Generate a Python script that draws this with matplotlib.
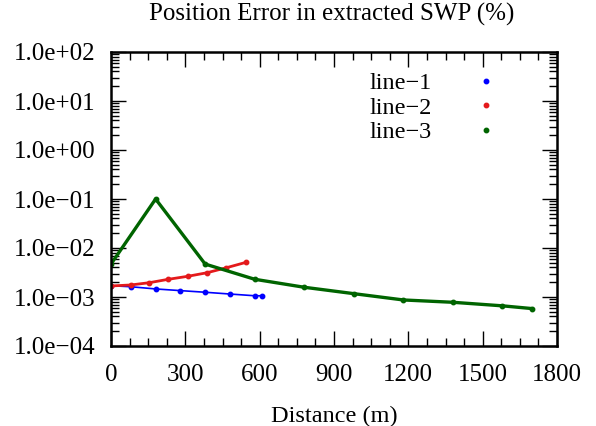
import math
import matplotlib
matplotlib.use('Agg')
import matplotlib.pyplot as plt
from matplotlib.ticker import FixedLocator, LogLocator, FuncFormatter, NullFormatter
from matplotlib.lines import Line2D

plt.rcParams['font.family'] = ['Liberation Serif', 'DejaVu Serif']
plt.rcParams['axes.unicode_minus'] = True

# data
x1 = [0, 80, 180, 280, 380, 480, 580, 610]
y1 = [1.70e-3, 1.62e-3, 1.46e-3, 1.35e-3, 1.25e-3, 1.15e-3, 1.06e-3, 1.06e-3]

x2 = [0, 80, 155, 232, 309, 388, 466, 545]
y2 = [1.68e-3, 1.76e-3, 1.96e-3, 2.30e-3, 2.64e-3, 3.13e-3, 3.96e-3, 5.10e-3]

x3 = [0, 180, 380, 580, 780, 980, 1180, 1380, 1580, 1700]
y3 = [4.7e-3, 1.0e-1, 4.7e-3, 2.3e-3, 1.58e-3, 1.17e-3, 8.7e-4, 7.8e-4, 6.6e-4, 5.8e-4]

labels = ['line\u22121', 'line\u22122', 'line\u22123']
colors = ['#0000ff', '#e41a1c', '#006400']

fig = plt.figure(figsize=(5.96, 4.26), dpi=100)
ax = fig.add_axes([111/596, 1-346/426, 446/596, 294/426])

ax.plot(x1, y1, color=colors[0], lw=1.2, marker='o', ms=3.2, mec=colors[0])
ax.plot(x2, y2, color=colors[1], lw=2.0, marker='o', ms=3.2, mec=colors[1])
ax.plot(x3, y3, color=colors[2], lw=2.4, marker='o', ms=3.2, mec=colors[2])

ax.set_yscale('log')
ax.set_xlim(0, 1800)
ax.set_ylim(1e-4, 1e2)
ax.set_xticks(range(0, 1801, 300))
ax.xaxis.set_minor_locator(FixedLocator(range(0, 1801, 75)))
ax.yaxis.set_major_locator(LogLocator(base=10, numticks=20))
ax.yaxis.set_minor_locator(LogLocator(base=10, subs=range(2, 10), numticks=50))
ax.yaxis.set_minor_formatter(NullFormatter())


def fmt(v, pos):
    e = int(round(math.log10(v)))
    s = '+' if e >= 0 else '\u2212'
    return '1.0e%s%02d' % (s, abs(e))


ax.yaxis.set_major_formatter(FuncFormatter(fmt))

ax.tick_params(which='both', direction='in', top=True, right=True,
               labelsize=18, width=1.0, color='black')
ax.tick_params(which='major', length=11)
ax.tick_params(which='minor', length=5.5)
ax.tick_params(axis='x', pad=13)
ax.tick_params(axis='y', pad=11.5)
for sp in ax.spines.values():
    sp.set_linewidth(1.8)

fig.text(332/596, 1-21/426, 'Position Error in extracted SWP (%)', fontsize=18,
         ha='center', va='baseline')
ax.set_xlabel('Distance (m)', fontsize=17.5, labelpad=14)

handles = [Line2D([], [], ls='none', marker='o', ms=3.2, color=c) for c in colors]
ax.legend(handles, labels, loc='upper right', bbox_to_anchor=(0.916, 1.005),
          frameon=False, markerfirst=False, fontsize=17.5, handlelength=1.0,
          handletextpad=1.7, labelspacing=0.1)

fig.savefig('out.png', dpi=100)
